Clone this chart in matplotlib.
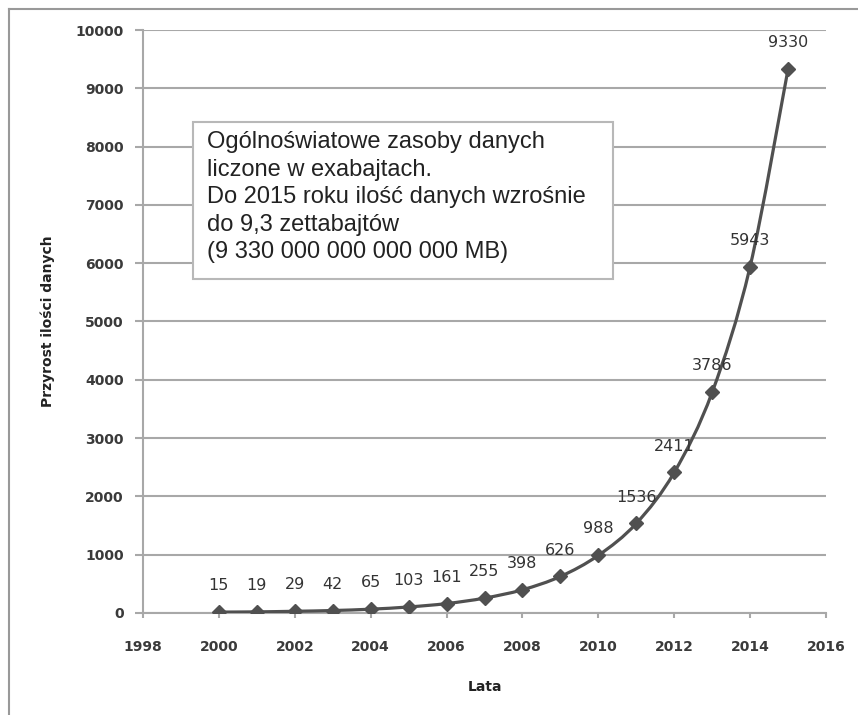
import matplotlib
matplotlib.use("Agg")
import matplotlib.pyplot as plt
from matplotlib.lines import Line2D
from matplotlib.patches import Rectangle, PathPatch
from matplotlib.path import Path

years = [2000, 2001, 2002, 2003, 2004, 2005, 2006, 2007,
         2008, 2009, 2010, 2011, 2012, 2013, 2014, 2015]
values = [15, 19, 29, 42, 65, 103, 161, 255,
          398, 626, 988, 1536, 2411, 3786, 5943, 9330]
x_ticks = [1998, 2000, 2002, 2004, 2006, 2008, 2010, 2012, 2014, 2016]
y_ticks = [0, 1000, 2000, 3000, 4000, 5000, 6000, 7000, 8000, 9000, 10000]
note = ("Ogólnoświatowe zasoby danych\n"
        "liczone w exabajtach.\n"
        "Do 2015 roku ilość danych wzrośnie\n"
        "do 9,3 zettabajtów\n"
        "(9 330 000 000 000 000 MB)")

line_col = "#505050"
grid_col = "#a8a8a8"

fig = plt.figure(figsize=(8.58, 7.15), dpi=100)
ax = fig.add_axes([0.1667, 0.1427, 0.7960, 0.8153])

# smoothed line like Excel (bezier through the data points)
verts = [(years[0], values[0])]
codes = [Path.MOVETO]
n = len(years)
for i in range(n - 1):
    p0 = (years[max(i - 1, 0)], values[max(i - 1, 0)])
    p1 = (years[i], values[i])
    p2 = (years[i + 1], values[i + 1])
    p3 = (years[min(i + 2, n - 1)], values[min(i + 2, n - 1)])
    c1 = (p1[0] + (p2[0] - p0[0]) / 6, p1[1] + (p2[1] - p0[1]) / 6)
    c2 = (p2[0] - (p3[0] - p1[0]) / 6, p2[1] - (p3[1] - p1[1]) / 6)
    verts += [c1, c2, p2]
    codes += [Path.CURVE4] * 3
ax.add_patch(PathPatch(Path(verts, codes), facecolor="none",
                       edgecolor=line_col, lw=2.3, zorder=3))
ax.plot(years, values, ls="none", marker="D", ms=7, color=line_col, zorder=4)

for x, v in zip(years, values):
    ax.annotate(str(v), (x, v), xytext=(0, 19), textcoords="offset points",
                ha="center", va="center", fontsize=11.5, color="#333333",
                zorder=5)

ax.set_xlim(1998, 2016)
ax.set_ylim(0, 10000)
ax.set_xticks(x_ticks)
ax.set_yticks(y_ticks)
ax.grid(axis="y", color=grid_col, lw=1.5, zorder=0)
ax.set_axisbelow(True)
for s in ["top", "right"]:
    ax.spines[s].set_visible(False)
for s in ["left", "bottom"]:
    ax.spines[s].set_color(grid_col)
    ax.spines[s].set_linewidth(1.5)
ax.tick_params(axis="y", length=5.8, width=1.5, color=grid_col, pad=8,
               labelsize=10, labelcolor="#3a3a3a")
ax.tick_params(axis="x", length=3.6, width=1.5, color=grid_col, pad=16,
               labelsize=10, labelcolor="#3a3a3a")
for lab in ax.get_xticklabels() + ax.get_yticklabels():
    lab.set_fontweight("bold")

ax.set_xlabel("Lata", fontsize=10, fontweight="bold", color="#222222")
ax.set_ylabel("Przyrost ilości danych", fontsize=10, fontweight="bold",
              color="#222222")
ax.xaxis.set_label_coords(0.5, -0.115)
ax.yaxis.set_label_coords(-0.129, 0.5)

ax.add_patch(Rectangle((0.0732, 0.573), 0.615, 0.269, transform=ax.transAxes,
                       facecolor="white", edgecolor="#b8b8b8", lw=1.5,
                       zorder=2))
ax.text(0.0937, 0.826, note, transform=ax.transAxes, ha="left", va="top",
        fontsize=17, family="Liberation Sans", color="#222222",
        linespacing=1.32, zorder=3)

fig.add_artist(Line2D([0.0105, 0.0105], [0.0, 0.987], transform=fig.transFigure,
                      color="#999999", lw=1.5))
fig.add_artist(Line2D([0.0105, 1.0], [0.987, 0.987], transform=fig.transFigure,
                      color="#999999", lw=1.5))

fig.savefig("out.png", dpi=100)
